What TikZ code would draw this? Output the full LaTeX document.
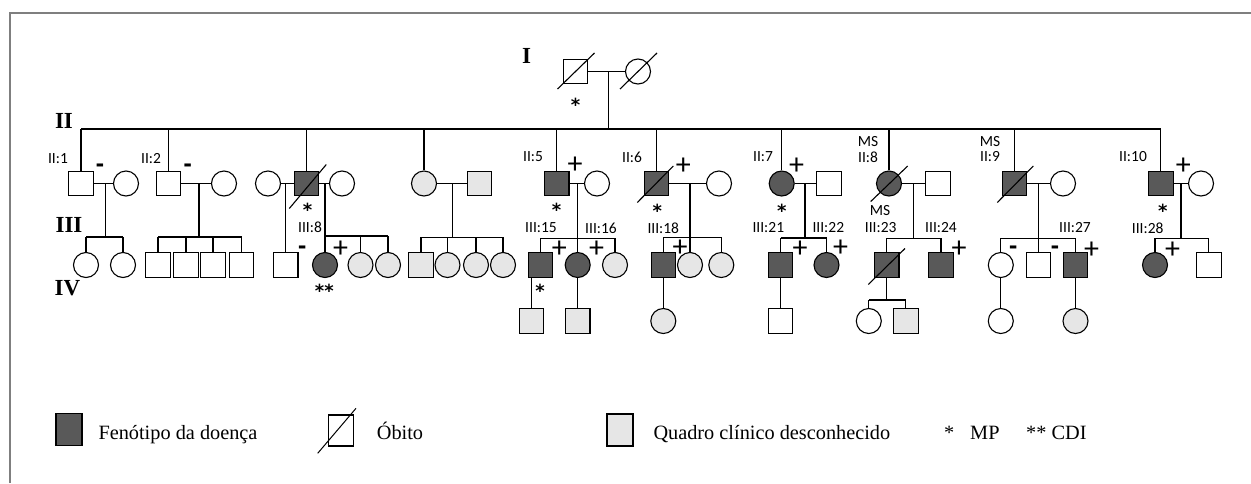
\documentclass[tikz,border=0pt]{standalone}
\usepackage{fontspec}
\setmainfont{Liberation Serif}
\newfontfamily\lab{Carlito}
\newfontfamily\djv{DejaVu Sans}
\usetikzlibrary{calc}
\definecolor{aff}{HTML}{595959}
\definecolor{unk}{HTML}{E6E6E6}
\definecolor{frm}{HTML}{7F7F7F}
\begin{document}
\begin{tikzpicture}[x=1pt,y=-1pt,
  lw/.style={line width=1.1pt},
  sq/.style={draw, rectangle, minimum size=24.5pt, inner sep=0pt, line width=1.1pt, fill=white},
  ci/.style={draw, circle, minimum size=25pt, inner sep=0pt, line width=1.1pt, fill=white},
  af/.style={fill=aff},
  uk/.style={fill=unk},
  lbl/.style={font=\lab\fontsize{15.5}{16}\selectfont, inner sep=0pt},
  pl/.style={font=\lab\fontsize{30}{30}\selectfont, inner sep=0pt, anchor=base, yshift=-9pt},
  mi/.style={font=\djv\bfseries\fontsize{21}{21}\selectfont, inner sep=0pt, anchor=base, yshift=-6pt},
  ast/.style={font=\djv\bfseries\fontsize{18}{18}\selectfont, inner sep=0pt, anchor=base, yshift=-10.5pt},
  gen/.style={font=\bfseries\fontsize{23}{23}\selectfont, inner sep=0pt},
  leg/.style={font=\fontsize{20.3}{22}\selectfont, inner sep=0pt, anchor=base west},
]
\useasboundingbox (0,0) rectangle (1251,483);
\draw[frm, line width=1.2pt] (10,483) -- (10,13) -- (1251,13);

% generation labels
\node[gen] (gI) at (526.7,56) {I};
\node[gen] (gII) at (64,121) {II};
\node[gen] (gIII) at (69,225) {III};
\node[gen] (gIV) at (67.5,288) {IV};

% ---- Generation I
\node[sq] (I1) at (575.5,71.5) {};
\node[ci] (I2) at (638,71.5) {};
\draw[lw] (I1.east) -- (I2.west);
\coordinate (mI) at (608.7,71.5);
\coordinate (sII) at (608.7,129);

% ---- Generation II
\node[sq] (A1) at (81,183.5) {};
\node[ci] (A1w) at (126,183.5) {};
\node[sq] (A2) at (168.5,183.5) {};
\node[ci] (A2w) at (224,183.5) {};
\node[ci] (A3l) at (268,183.5) {};
\node[sq,af] (A3) at (306.3,183.5) {};
\node[ci] (A3r) at (342,183.5) {};
\node[ci,uk] (A4) at (424,183.5) {};
\node[sq,uk] (A4h) at (479.5,183.5) {};
\node[sq,af] (A5) at (556.7,183.5) {};
\node[ci] (A5w) at (597,183.5) {};
\node[sq,af] (A6) at (656.3,183.5) {};
\node[ci] (A6w) at (719,183.5) {};
\node[ci,af] (A7) at (781.7,183.5) {};
\node[sq] (A7h) at (829,183.5) {};
\node[ci,af] (A8) at (889,183.5) {};
\node[sq] (A8h) at (938,183.5) {};
\node[sq,af] (A9) at (1014.5,183.5) {};
\node[ci] (A9w) at (1063,183.5) {};
\node[sq,af] (A10) at (1160.8,183.5) {};
\node[ci] (A10w) at (1201,183.5) {};

\draw[lw] (mI) -- (sII);
\draw[lw] (A1 |- sII) -- (A10 |- sII);
\foreach \n in {A1,A2,A3,A4,A5,A6,A7,A8,A10}
  \draw[lw] (\n |- sII) -- (\n.north);
\draw[line width=1.8pt] (A9 |- sII) -- (A9.north);

\draw[lw] (A1.east) -- (A1w.west);
\draw[lw] (A2.east) -- (A2w.west);
\draw[lw] (A3l.east) -- (A3.west);
\draw[lw] (A3.east) -- (A3r.west);
\draw[lw] (A4.east) -- (A4h.west);
\draw[lw] (A5.east) -- (A5w.west);
\draw[lw] (A6.east) -- (A6w.west);
\draw[lw] (A7.east) -- (A7h.west);
\draw[lw] (A8.east) -- (A8h.west);
\draw[lw] (A9.east) -- (A9w.west);
\draw[lw] (A10.east) -- (A10w.west);

% ---- Generation III
\node[ci] (B1) at (86,265) {};
\node[ci] (B2) at (123,265) {};
\node[sq] (B3) at (158,265) {};
\node[sq] (B4) at (186,265) {};
\node[sq] (B5) at (213,265) {};
\node[sq] (B6) at (241.5,265) {};
\node[sq] (B7) at (285.7,265) {};
\node[ci,af] (B8) at (325,265) {};
\node[ci,uk] (B9) at (360.5,265) {};
\node[ci,uk] (B10) at (388,265) {};
\node[sq,uk] (B11) at (421,265) {};
\node[ci,uk] (B12) at (447.5,265) {};
\node[ci,uk] (B13) at (476,265) {};
\node[ci,uk] (B14) at (503,265) {};
\node[sq,af] (B15) at (540.5,265) {};
\node[ci,af] (B16) at (577.7,265) {};
\node[ci,uk] (B17) at (615,265) {};
\node[sq,af] (B18) at (663.3,265) {};
\node[ci,uk] (B19) at (690,265) {};
\node[ci,uk] (B20) at (721.3,265) {};
\node[sq,af] (B21) at (780.5,265) {};
\node[ci,af] (B22) at (826.5,265) {};
\node[sq,af] (B23) at (886.7,265) {};
\node[sq,af] (B24) at (941,265) {};
\node[ci] (B25) at (1000.8,265) {};
\node[sq] (B26) at (1038.3,265) {};
\node[sq,af] (B27) at (1075.5,265) {};
\node[ci,af] (B28) at (1155,265) {};
\node[sq] (B29) at (1208.8,265) {};

% family descents
\coordinate (m1) at (105.7,183.5);  \coordinate (s1) at (105.7,237);
\coordinate (m2) at (199,183.5);    \coordinate (s2) at (199,237);
\coordinate (m3a) at (285.7,183.5);
\coordinate (m3) at (325,183.5);    \coordinate (s3) at (325,236);
\coordinate (m4) at (452.3,183.5);  \coordinate (s4) at (452.3,237.3);
\coordinate (m5) at (577.7,183.5);  \coordinate (s5) at (577.7,238.3);
\coordinate (m6) at (690,183.5);    \coordinate (s6) at (690,237.3);
\coordinate (m7) at (805,183.5);    \coordinate (s7) at (805,238);
\coordinate (m8) at (913.3,183.5);  \coordinate (s8) at (913.3,238.3);
\coordinate (m9) at (1038.3,183.5); \coordinate (s9) at (1038.3,238.3);
\coordinate (m10) at (1181,183.5);  \coordinate (s10) at (1181,238.3);

\foreach \m/\s in {m1/s1,m2/s2,m3/s3,m4/s4,m5/s5,m6/s6,m7/s7,m8/s8,m9/s9,m10/s10}
  \draw[lw] (\m) -- (\s);
\draw[lw] (m3a) -- (B7.north);

\draw[lw] (B1 |- s1) -- (B2 |- s1);
\draw[lw] (B3 |- s2) -- (B6 |- s2);
\draw[lw] (B8 |- s3) -- (B10 |- s3);
\draw[lw] (B11 |- s4) -- (B14 |- s4);
\draw[lw] (B15 |- s5) -- (B17 |- s5);
\draw[lw] (B18 |- s6) -- (B20 |- s6);
\draw[lw] (B21 |- s7) -- (B22 |- s7);
\draw[lw] (B23 |- s8) -- (B24 |- s8);
\draw[lw] (B25 |- s9) -- (B27 |- s9);
\draw[lw] (B28 |- s10) -- (B29 |- s10);

\foreach \n/\s in {B1/s1,B2/s1,B3/s2,B4/s2,B5/s2,B6/s2,B8/s3,B9/s3,B10/s3,
  B11/s4,B12/s4,B13/s4,B14/s4,B15/s5,B16/s5,B17/s5,B18/s6,B19/s6,B20/s6,
  B21/s7,B22/s7,B23/s8,B24/s8,B25/s9,B26/s9,B27/s9,B28/s10,B29/s10}
  \draw[lw] (\n |- \s) -- (\n.north);

% ---- Generation IV
\node[sq,uk] (C1) at (531.5,321) {};
\node[sq,uk] (C2) at (577.7,321) {};
\node[ci,uk] (C3) at (663.3,321) {};
\node[sq] (C4) at (780.5,321) {};
\node[ci] (C5) at (868.8,321) {};
\node[sq,uk] (C6) at (905.8,321) {};
\node[ci] (C7) at (1000.8,321) {};
\node[ci,uk] (C8) at (1075.5,321) {};

\draw[lw] (B15.south -| C1) -- (C1.north);
\draw[lw] (B16.south) -- (C2.north);
\draw[lw] (B18.south) -- (C3.north);
\draw[lw] (B21.south) -- (C4.north);
\coordinate (s11) at (886.7,300);
\draw[lw] (B23.south) -- (s11);
\draw[lw] (C5 |- s11) -- (C6 |- s11);
\draw[lw] (C5 |- s11) -- (C5.north);
\draw[lw] (C6 |- s11) -- (C6.north);
\draw[lw] (B25.south) -- (C7.north);
\draw[lw] (B27.south) -- (C8.north);

% ---- deceased slashes
\draw[lw] ($(I1.center)+(-18,17.5)$) -- ($(I1.center)+(19,-18.5)$);
\draw[lw] ($(I2.center)+(-18,17.5)$) -- ($(I2.center)+(19,-18.5)$);
\draw[lw] ($(A3.center)+(-17,25)$) -- ($(A3.center)+(20,-19)$);
\draw[lw] ($(A6.center)+(-19,19)$) -- ($(A6.center)+(17,-17.5)$);
\draw[lw] ($(A8.center)+(-18.3,18)$) -- ($(A8.center)+(18.7,-17.5)$);
\draw[lw] ($(A9.center)+(-17.2,19)$) -- ($(A9.center)+(18.8,-17.5)$);
\draw[lw] ($(B23.center)+(-18.4,19.5)$) -- ($(B23.center)+(18.3,-16.5)$);

% ---- ID labels
\node[lbl] (l1) at (58,159) {II:1};
\node[lbl] (l2) at (151,159) {II:2};
\node[lbl] (l5) at (533,157) {II:5};
\node[lbl] (l6) at (632,157) {II:6};
\node[lbl] (l7) at (763,157) {II:7};
\node[lbl] (ms8) at (868,142) {MS};
\node[lbl] (l8) at (868,157) {II:8};
\node[lbl] (ms9) at (990,142) {MS};
\node[lbl] (l9) at (990,157) {II:9};
\node[lbl] (l10) at (1133,157) {II:10};
\node[lbl] (ms23) at (880,211) {MS};
\node[lbl] (k8) at (310,227.5) {III:8};
\node[lbl] (k15) at (541,228) {III:15};
\node[lbl] (k16) at (601,228) {III:16};
\node[lbl] (k18) at (663.3,228) {III:18};
\node[lbl] (k21) at (768.3,228) {III:21};
\node[lbl] (k22) at (828.3,228) {III:22};
\node[lbl] (k23) at (880.7,228) {III:23};
\node[lbl] (k24) at (941,228) {III:24};
\node[lbl] (k27) at (1075,228) {III:27};
\node[lbl] (k28) at (1147.7,228) {III:28};

% asterisks
\node[ast] (a1) at (575.5,101) {*};
\node[ast] (a2) at (307.7,206) {*};
\node[ast] (a3) at (556.7,206) {*};
\node[ast] (a4) at (657.3,207) {*};
\node[ast] (a5) at (781.7,207) {*};
\node[ast] (a6) at (1162.7,207) {*};
\node[ast] (a7) at (540,287) {*};
\node[ast] (a8) at (324.3,287) {**};

% plus signs
\node[pl] (p1) at (575,164) {+};
\node[pl] (p2) at (683.3,165) {+};
\node[pl] (p3) at (796.7,165) {+};
\node[pl] (p4) at (1183.3,165) {+};
\node[pl] (p5) at (340.7,248) {+};
\node[pl] (p6) at (559.3,248) {+};
\node[pl] (p7) at (596.7,248) {+};
\node[pl] (p8) at (680,247) {+};
\node[pl] (p9) at (800,248) {+};
\node[pl] (p10) at (840.7,247) {+};
\node[pl] (p11) at (959,248) {+};
\node[pl] (p12) at (1091.7,249) {+};
\node[pl] (p13) at (1172.7,249) {+};

% minus signs
\node[mi] (n1) at (100,165) {-};
\node[mi] (n2) at (187.7,165) {-};
\node[mi] (n3) at (302.3,247) {-};
\node[mi] (n4) at (1013.3,247) {-};
\node[mi] (n5) at (1055,247) {-};

% ---- legend
\node[draw, line width=1.1pt, fill=aff, minimum width=26pt, minimum height=32pt, inner sep=0pt] (L1) at (69,429.5) {};
\node[leg] (T1) at (98.3,439) {Fenótipo da doença};
\node[draw, line width=1.1pt, fill=white, minimum width=25pt, minimum height=31pt, inner sep=0pt] (L2) at (341,430.5) {};
\draw[line width=1pt] ($(L2.center)+(-23.3,22.8)$) -- ($(L2.center)+(15,-22.2)$);
\node[leg] (T2) at (376.7,439) {Óbito};
\node[draw, line width=1.1pt, fill=unk, minimum width=26pt, minimum height=32pt, inner sep=0pt] (L3) at (620,430) {};
\node[leg] (T3) at (653.3,439) {Quadro clínico desconhecido};
\node[leg] (T4) at (944,439) {*};
\node[leg] (T5) at (970,439) {MP};
\node[leg] (T6) at (1026,439) {** CDI};
\end{tikzpicture}
\end{document}
